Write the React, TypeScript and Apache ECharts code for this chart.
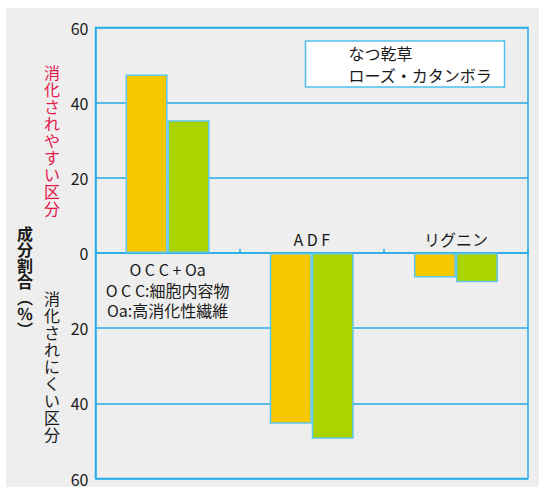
import { useEffect, useRef } from "react";
import * as echarts from "echarts";

// Component share (%) of each fraction; positive = easily digested, negative = hard to digest
const categories = ["OCC+Oa", "ADF", "リグニン"];
const seriesNames = ["なつ乾草", "ローズ・カタンボラ"];
const hayValues = [47.5, -45.4, -6.5];
const rhodesValues = [35.3, -49.4, -7.8];

// Category captions drawn next to the zero line
const categoryCaptions = [
  "O C C + Oa\nO C C:細胞内容物\nOa:高消化性繊維",
  "A D F",
  "リグニン",
];
const captionAbove = [false, true, true];

// Vertical side titles
const easyTitle = "消化されやすい区分";
const hardTitle = "消化されにくい区分";
const axisTitle = "成分割合︵％︶";

const BLUE = "#25ade6";
const BAR_EDGE = "#5cc6ef";
const YELLOW = "#f5c800";
const GREEN = "#aad300";
const INK = "#1a1a1a";
const RED = "#e5174b";
const FONT = '"Noto Sans CJK JP", "Noto Sans", sans-serif';

const vertical = (s: string) => Array.from(s).join("\n");

export default function App() {
  const ref = useRef<HTMLDivElement>(null);

  useEffect(() => {
    if (!ref.current) return;
    const chart = echarts.init(ref.current, null, { renderer: "svg" });
    chart.setOption({
      animation: false,
      textStyle: { fontFamily: FONT },
      grid: {
        left: 95.5,
        top: 27.5,
        width: 432.5,
        height: 451,
        show: true,
        borderColor: BLUE,
        borderWidth: 1.5,
        backgroundColor: "transparent",
      },
      legend: {
        orient: "vertical",
        left: 305.5,
        top: 41,
        icon: "none",
        itemWidth: 30,
        itemHeight: 14,
        itemGap: 2,
        padding: [2, 12, 2, 8],
        backgroundColor: "#ffffff",
        borderColor: "#4fc0ef",
        borderWidth: 1.5,
        selectedMode: false,
        textStyle: { fontSize: 16, color: INK, fontFamily: FONT, lineHeight: 20 },
        data: seriesNames,
      },
      xAxis: {
        type: "category",
        data: categories,
        axisLabel: { show: false },
        axisLine: { onZero: true, lineStyle: { color: BLUE, width: 1.5 } },
        axisTick: { show: true, inside: true, length: 4, lineStyle: { color: BLUE, width: 1.5 } },
        splitLine: { show: false },
      },
      yAxis: {
        type: "value",
        min: -60,
        max: 60,
        interval: 20,
        axisLine: { show: true, lineStyle: { color: BLUE, width: 1.5 } },
        axisTick: { show: false },
        axisLabel: {
          margin: 7,
          fontSize: 16,
          color: INK,
          fontFamily: FONT,
          formatter: (v: number) => String(Math.abs(v)),
        },
        splitLine: { show: true, lineStyle: { color: BLUE, width: 1.5 } },
      },
      series: [
        {
          name: seriesNames[0],
          type: "bar",
          data: hayValues,
          barWidth: 42,
          barGap: "0%",
          itemStyle: { color: YELLOW, borderColor: BAR_EDGE, borderWidth: 1.5 },
        },
        {
          name: seriesNames[1],
          type: "bar",
          data: rhodesValues,
          barWidth: 42,
          barGap: "0%",
          itemStyle: { color: GREEN, borderColor: BAR_EDGE, borderWidth: 1.5 },
        },
      ],
    });

    const y0 = chart.convertToPixel({ yAxisIndex: 0 }, 0) as number;
    const captions = categories.map((c, i) => {
      const x = chart.convertToPixel({ xAxisIndex: 0 }, c) as number;
      return {
        type: "text",
        x,
        y: captionAbove[i] ? y0 - 4 : y0 + 6,
        silent: true,
        style: {
          text: categoryCaptions[i],
          fill: INK,
          font: `16px ${FONT}`,
          lineHeight: 20.5,
          align: "center",
          verticalAlign: captionAbove[i] ? "bottom" : "top",
        },
      };
    });

    chart.setOption({
      graphic: [
        ...captions,
        {
          type: "text",
          x: 52,
          y: 63,
          silent: true,
          style: {
            text: vertical(easyTitle),
            fill: RED,
            font: `16px ${FONT}`,
            lineHeight: 17,
            align: "center",
            verticalAlign: "top",
          },
        },
        {
          type: "text",
          x: 52,
          y: 289,
          silent: true,
          style: {
            text: vertical(hardTitle),
            fill: INK,
            font: `16px ${FONT}`,
            lineHeight: 17,
            align: "center",
            verticalAlign: "top",
          },
        },
        {
          type: "text",
          x: 25,
          y: 225,
          silent: true,
          style: {
            text: vertical(axisTitle),
            fill: INK,
            font: `bold 16px ${FONT}`,
            lineHeight: 16,
            align: "center",
            verticalAlign: "top",
          },
        },
      ],
    });

    return () => chart.dispose();
  }, []);

  return (
    <div style={{ position: "absolute", left: 0, top: 0, width: 539, height: 487 }}>
      <div
        style={{
          position: "absolute",
          left: 6,
          top: 8,
          width: 533,
          height: 479,
          background: "#eeeeee",
        }}
      />
      <div ref={ref} style={{ position: "absolute", left: 0, top: 0, width: 539, height: 487 }} />
    </div>
  );
}
